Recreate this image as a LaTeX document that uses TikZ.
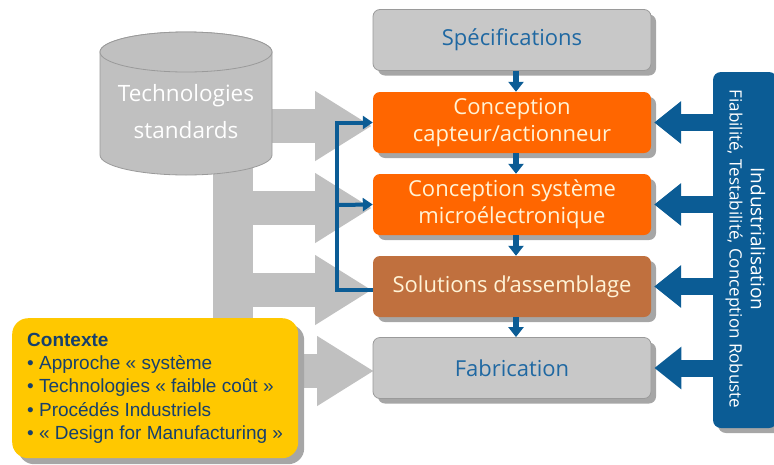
\documentclass[tikz,border=0pt]{standalone}
\usepackage{fontspec}
\setmainfont{Open Sans}
\newfontfamily\arialf{Liberation Sans}
\usetikzlibrary{arrows.meta,shadows,calc}
\definecolor{cgray}{HTML}{C0C0C0}
\definecolor{boxgray}{HTML}{C8C8C8}
\definecolor{boxedge}{HTML}{9A9A9A}
\definecolor{shad}{HTML}{A6A6A6}
\definecolor{corange}{HTML}{FF6600}
\definecolor{cbrown}{HTML}{C0703E}
\definecolor{cblue}{HTML}{0B5C95}
\definecolor{cyellow}{HTML}{FFC800}
\definecolor{ytext}{HTML}{17406D}
\definecolor{stext}{HTML}{1F68A2}
\definecolor{cream}{HTML}{FFF3D6}
\begin{document}
\begin{tikzpicture}[x=1pt,y=-1pt,
  procbox/.style={rounded corners=7pt, minimum width=278pt, minimum height=61pt,
     align=center, font=\fontsize{22}{27}\selectfont, inner sep=0pt,
     drop shadow={shadow xshift=5pt, shadow yshift=-5pt, fill=shad, opacity=1}},
  graybox/.style={procbox, fill=boxgray, draw=boxedge, line width=0.8pt, text=stext},
  orangebox/.style={procbox, fill=corange, text=cream},
  brownbox/.style={procbox, fill=cbrown, text=cream},
  downarrow/.style={cblue, line width=6pt, -{Triangle[width=15pt,length=10pt]}},
  bigarrow/.style={cblue, line width=17pt, -{Triangle[width=41pt,length=27pt]}},
  grayarrow/.style={cgray, line width=34pt, -{Triangle[width=66pt,length=57pt]}},
  bracket/.style={cblue, line width=4pt},
  bracketarrow/.style={cblue, line width=4pt, -{Triangle[width=13pt,length=10pt]}},
  vtext/.style={rotate=-90, text=white, inner sep=0pt}
]
\useasboundingbox (0,0) rectangle (774,464);

% gray E-shaped arrows (background)
\fill[cgray] (213,150) rectangle (253,388);
\coordinate (g1) at (250,126);
\coordinate (g2) at (233,208);
\coordinate (g3) at (233,290);
\coordinate (g4) at (233,371);
\coordinate (h1) at (372,126);
\coordinate (h2) at (372,208);
\coordinate (h3) at (372,290);
\coordinate (h4) at (374,371);
\draw[grayarrow] (g1) -- (h1);
\draw[grayarrow] (g2) -- (h2);
\draw[grayarrow] (g3) -- (h3);
\draw[grayarrow] (g4) -- (h4);

% cylinder
\filldraw[fill=cgray, draw=boxedge, line width=0.8pt]
  (100,52) -- (100,155) arc[start angle=180, end angle=360, x radius=86, y radius=-20]
  -- (272,52) arc[start angle=0, end angle=180, x radius=86, y radius=-20] -- cycle;
\draw[boxedge, line width=0.8pt, fill=cgray] (186,52) ellipse[x radius=86, y radius=20];
\node[text=white, align=center, font=\fontsize{22.5}{37}\selectfont] (tech) at (186,112) {Technologies\\standards};

% process boxes
\node[graybox] (spec) at (512,40) {Spécifications};
\node[orangebox] (cap) at (512,122.5) {Conception\\capteur/actionneur};
\node[orangebox] (sys) at (512,204.5) {Conception système\\microélectronique};
\node[brownbox] (sol) at (512,286.5) {Solutions d’assemblage};
\node[graybox] (fab) at (512,368) {Fabrication};

% down arrows
\draw[downarrow] ($(spec.south)+(4,0)$) -- ($(cap.north)+(4,0)$);
\draw[downarrow] ($(cap.south)+(4,0)$) -- ($(sys.north)+(4,0)$);
\draw[downarrow] ($(sys.south)+(4,0)$) -- ($(sol.north)+(4,0)$);
\draw[downarrow] ($(sol.south)+(4,0)$) -- ($(fab.north)+(4,0)$);

% blue bracket
\coordinate (bk) at (337,205);
\draw[bracket] ($(sol.west)+(0,3)$) -| (bk);
\draw[bracketarrow] (bk) |- (cap.west);
\draw[bracketarrow] (bk) -- (sys.west);

% industrialisation box
\node[fill=cblue, rounded corners=8pt, minimum width=64pt, minimum height=356pt,
  inner sep=0pt,
  drop shadow={shadow xshift=5pt, shadow yshift=-5pt, fill=shad, opacity=1}]
  (ind) at (745,250) {};
\node[vtext, font=\fontsize{19}{21}\selectfont] (indt1) at (758,239) {Industrialisation};
\node[vtext, font=\fontsize{17}{19}\selectfont] (indt2) at (734,249) {Fiabilité, Testabilité, Conception Robuste};

\draw[bigarrow] (ind.west |- cap.east) -- ($(cap.east)+(3,0)$);
\draw[bigarrow] (ind.west |- sys.east) -- ($(sys.east)+(3,0)$);
\draw[bigarrow] (ind.west |- sol.east) -- ($(sol.east)+(3,0)$);
\draw[bigarrow] (ind.west |- fab.east) -- ($(fab.east)+(3,0)$);

% context box
\node[fill=cyellow, rounded corners=16pt, minimum width=286pt, minimum height=140pt,
  inner sep=0pt, anchor=north west,
  drop shadow={shadow xshift=6pt, shadow yshift=-6pt, fill=shad, opacity=1}]
  (ctx) at (12,318) {};
\node[anchor=north west, align=left, text=ytext, inner sep=0pt,
  font=\arialf\fontsize{19}{23.2}\selectfont] (ctxt) at (27,333)
  {\textbf{Contexte}\\
   • Approche « système\\
   • Technologies « faible coût »\\
   • Procédés Industriels\\
   • « Design for Manufacturing »};
\end{tikzpicture}
\end{document}
